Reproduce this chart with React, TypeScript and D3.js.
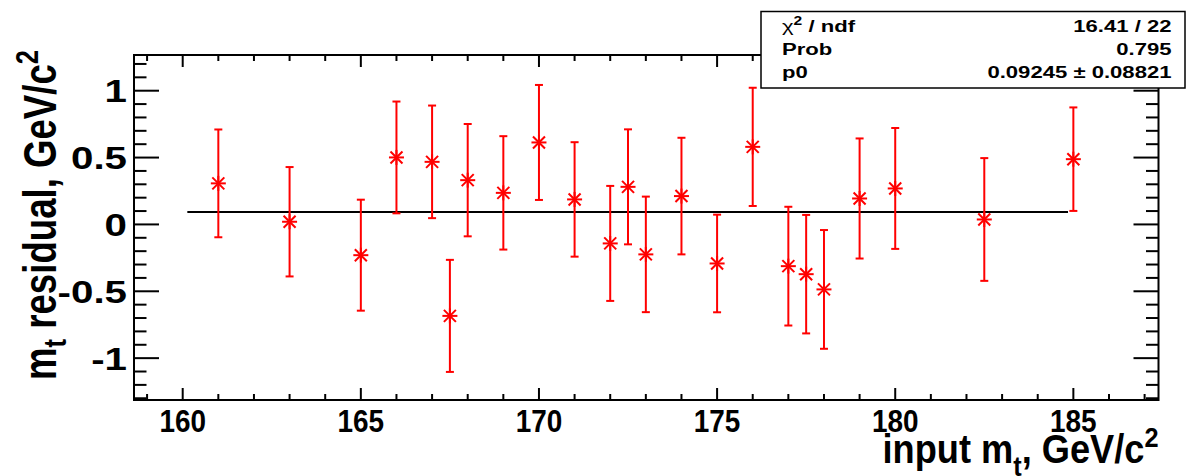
import React, { useEffect } from "react";
import * as d3 from "d3";

const W = 1187;
const H = 476;

// data
const massPoints = [161, 163, 165, 166, 167, 167.5, 168, 169, 170, 171, 172, 172.5, 173, 174, 175, 176, 177, 177.5, 178, 179, 180, 182.5, 185];
const residuals = [0.307, 0.02, -0.23, 0.501, 0.468, -0.684, 0.331, 0.236, 0.613, 0.187, -0.142, 0.281, -0.224, 0.212, -0.292, 0.58, -0.312, -0.372, -0.486, 0.194, 0.269, 0.037, 0.488];
const residualErrors = [0.403, 0.409, 0.415, 0.418, 0.421, 0.419, 0.42, 0.424, 0.43, 0.428, 0.43, 0.43, 0.432, 0.436, 0.365, 0.442, 0.444, 0.443, 0.444, 0.449, 0.452, 0.459, 0.387];
const xTickValues = [160, 165, 170, 175, 180, 185];
const yTickValues = [-1, -0.5, 0, 0.5, 1];
const yTickLabels = ["-1", "-0.5", "0", "0.5", "1"];
const fitP0 = 0.09245;
const fitRange = [160.13, 184.85];
const statNames = ["χ2 / ndf", "Prob", "p0"];
const statValues = ["16.41 / 22", "0.795", "0.09245 ± 0.08821"];

const xDomain = [158.633, 187.39];
const yDomain = [-1.313, 1.267];

const FL = 134, FR = 1158.5, FT = 55, FB = 400;
const RED = "#ff0000";
const FONT = "'Liberation Sans', Arial, Helvetica, sans-serif";

export default function App() {
  useEffect(() => {
    document.body.style.margin = "0";
  }, []);

  const x = d3.scaleLinear().domain(xDomain).range([FL, FR]);
  const y = d3.scaleLinear().domain(yDomain).range([FB, FT]);

  const xMinor = d3.range(159, 188, 1).filter((v) => v % 5 !== 0);
  const yMinor = d3.range(-13, 13, 1).map((v) => v / 10).filter((v) => Math.abs((v * 10) % 5) > 0.01);

  const ticks: JSX.Element[] = [];
  xTickValues.forEach((v, i) => {
    ticks.push(<line key={"xb" + i} x1={x(v)} x2={x(v)} y1={FB} y2={FB - 12} stroke="#000" strokeWidth={2} />);
    ticks.push(<line key={"xt" + i} x1={x(v)} x2={x(v)} y1={FT} y2={FT + 12} stroke="#000" strokeWidth={2} />);
  });
  xMinor.forEach((v, i) => {
    ticks.push(<line key={"xbm" + i} x1={x(v)} x2={x(v)} y1={FB} y2={FB - 6} stroke="#000" strokeWidth={2} />);
    ticks.push(<line key={"xtm" + i} x1={x(v)} x2={x(v)} y1={FT} y2={FT + 6} stroke="#000" strokeWidth={2} />);
  });
  yTickValues.forEach((v, i) => {
    ticks.push(<line key={"yl" + i} x1={FL} x2={FL + 25} y1={y(v)} y2={y(v)} stroke="#000" strokeWidth={2} />);
    ticks.push(<line key={"yr" + i} x1={FR} x2={FR - 25} y1={y(v)} y2={y(v)} stroke="#000" strokeWidth={2} />);
  });
  yMinor.forEach((v, i) => {
    ticks.push(<line key={"ylm" + i} x1={FL} x2={FL + 12.5} y1={y(v)} y2={y(v)} stroke="#000" strokeWidth={2} />);
    ticks.push(<line key={"yrm" + i} x1={FR} x2={FR - 12.5} y1={y(v)} y2={y(v)} stroke="#000" strokeWidth={2} />);
  });

  const points = massPoints.map((m, i) => {
    const cx = x(m);
    const cy = y(residuals[i]);
    const top = y(residuals[i] + residualErrors[i]);
    const bot = y(residuals[i] - residualErrors[i]);
    return (
      <g key={"p" + i} stroke={RED} strokeWidth={2} fill="none">
        <line x1={cx} x2={cx} y1={top} y2={bot} />
        <line x1={cx - 4} x2={cx + 4} y1={top} y2={top} />
        <line x1={cx - 4} x2={cx + 4} y1={bot} y2={bot} />
        <line x1={cx - 7.5} x2={cx + 7.5} y1={cy} y2={cy} />
        <line x1={cx - 6} x2={cx + 6} y1={cy - 6} y2={cy + 6} />
        <line x1={cx - 6} x2={cx + 6} y1={cy + 6} y2={cy - 6} />
        <line x1={cx} x2={cx} y1={cy - 7.5} y2={cy + 7.5} />
      </g>
    );
  });

  const statRowY = [31.5, 55, 78];

  return (
    <svg width={W} height={H} style={{ position: "absolute", left: 0, top: 0, background: "#fff" }} fontFamily={FONT}>
      <rect x={0} y={0} width={W} height={H} fill="#fff" />
      <line x1={x(fitRange[0])} x2={x(fitRange[1])} y1={y(fitP0)} y2={y(fitP0)} stroke="#000" strokeWidth={2} />
      {points}
      {ticks}
      <rect x={FL} y={FT} width={FR - FL} height={FB - FT} fill="none" stroke="#000" strokeWidth={2} />
      {yTickValues.map((v, i) => (
        <text key={"ytl" + i} transform={`translate(127,${y(v) + 11.5}) scale(1.26,1)`} textAnchor="end" fontSize={32} fontWeight="bold">
          {yTickLabels[i]}
        </text>
      ))}
      {xTickValues.map((v, i) => (
        <text key={"xtl" + i} transform={`translate(${x(v)},432) scale(0.9,1)`} textAnchor="middle" fontSize={31} fontWeight="bold">
          {v}
        </text>
      ))}
      <text x={FR} y={463} textAnchor="end" fontSize={40} fontWeight="bold" textLength={276} lengthAdjust="spacingAndGlyphs">
        input m<tspan fontSize={28} dy={13}>t</tspan><tspan dy={-13}>, GeV/c</tspan><tspan fontSize={28} dy={-16}>2</tspan>
      </text>
      <text transform={`translate(56,50) rotate(-90)`} textAnchor="end" fontSize={46} fontWeight="bold" textLength={330} lengthAdjust="spacingAndGlyphs">
        m<tspan fontSize={32} dy={10}>t</tspan><tspan dy={-10}> residual, GeV/c</tspan><tspan fontSize={32} dy={-18}>2</tspan>
      </text>
      <rect x={761} y={11.5} width={424} height={76.5} fill="#fff" stroke="#000" strokeWidth={1.5} />
      {statNames.map((n, i) => (
        <text key={"sn" + i} transform={`translate(782,${statRowY[i]}) scale(1.3,1)`} fontSize={17} fontWeight="bold">
          {i === 0 ? (
            <>
              <tspan fontWeight="normal">χ</tspan>
              <tspan fontSize={12} dy={-7}>2</tspan>
              <tspan dy={7}> / ndf</tspan>
            </>
          ) : (
            n
          )}
        </text>
      ))}
      {statValues.map((v, i) => (
        <text key={"sv" + i} transform={`translate(1171.5,${statRowY[i]}) scale(1.3,1)`} textAnchor="end" fontSize={17} fontWeight="bold">
          {v}
        </text>
      ))}
    </svg>
  );
}
